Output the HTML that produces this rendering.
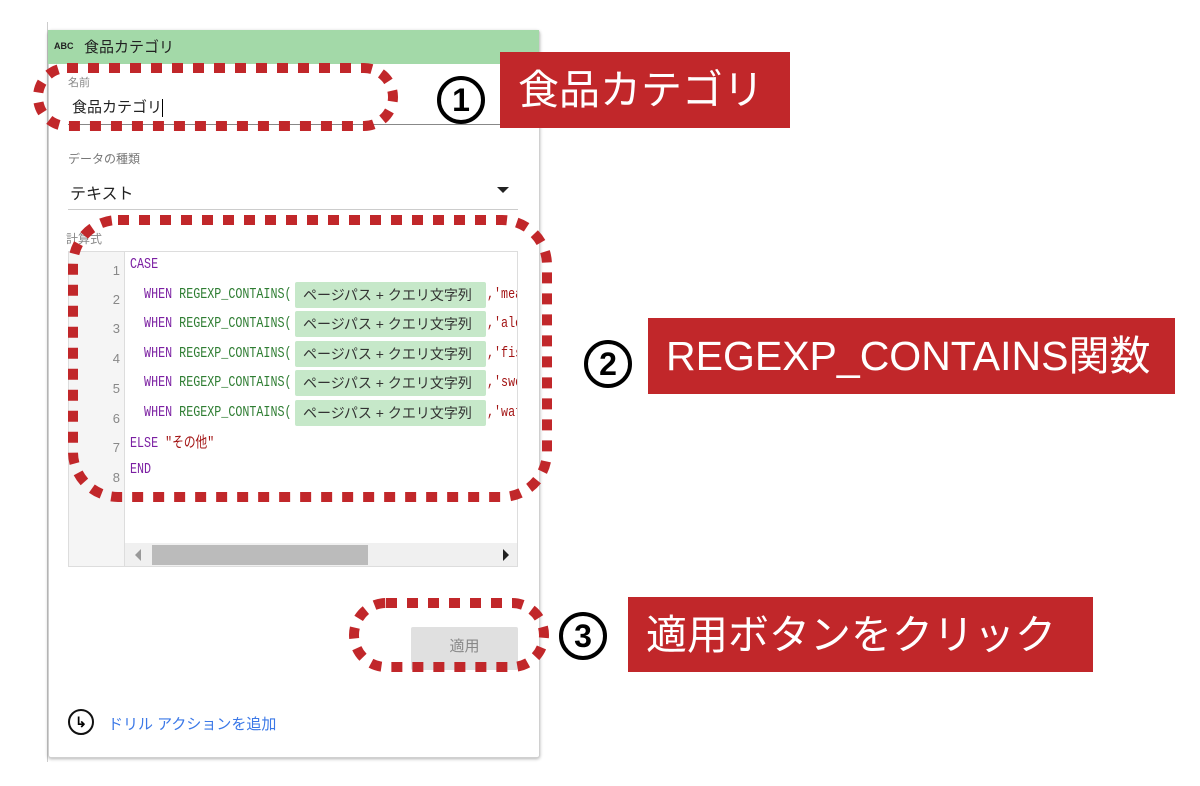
<!DOCTYPE html>
<html><head><meta charset="utf-8"><style>
body{margin:0;width:1200px;height:786px;background:#fff;position:relative;overflow:hidden;font-family:"Liberation Sans","Noto Sans CJK JP",sans-serif}
.a{position:absolute}
.lbl{position:absolute;background:#c1272a;color:#fff;font-size:41px;line-height:76px;padding-left:18px;box-sizing:border-box;white-space:nowrap}
.num{position:absolute;width:40px;height:40px;border:4px solid #000;border-radius:50%;font-size:32px;font-weight:bold;line-height:40px;text-align:center;color:#000}
.code{position:absolute;left:130px;font-family:"Liberation Mono","Noto Sans CJK JP",monospace;font-size:15px;transform:scaleX(0.78);transform-origin:left;white-space:nowrap}
.ln{position:absolute;left:100px;width:20px;text-align:right;font-size:13px;color:#888}
.chip{position:absolute;left:295px;width:191px;height:26px;background:#c6e8c9;border-radius:2px;font-size:14px;line-height:26px;color:#333;padding-left:8px;box-sizing:border-box}
.kw{color:#7b1fa2}.fn{color:#2e7d32}.st{color:#a31515}
.clip{position:absolute;left:487px;top:280px;width:30px;height:150px;overflow:hidden}
.clip .code{left:0}
</style></head><body>
<div class="a" style="left:47px;top:22px;width:1px;height:740px;background:#ccc"></div>
<div class="a" style="left:48px;top:30px;width:490px;height:726px;background:#fff;border:1px solid #d0d0d0;border-radius:3px;box-shadow:0 1px 3px rgba(0,0,0,.3)"></div>
<div class="a" style="left:48px;top:30px;width:491px;height:34px;background:#a3d9a8"></div>
<div class="a" style="left:54px;top:41px;font-size:9px;font-weight:bold;color:#222">ABC</div>
<div class="a" style="left:84px;top:36px;font-size:15px;color:#222">食品カテゴリ</div>
<div class="a" style="left:68px;top:74px;font-size:11px;color:#888">名前</div>
<div class="a" style="left:72px;top:96px;font-size:15px;color:#222">食品カテゴリ<span style="display:inline-block;width:1px;height:18px;background:#000;vertical-align:middle"></span></div>
<div class="a" style="left:68px;top:124px;width:450px;height:1px;background:#888"></div>
<div class="a" style="left:68px;top:150px;font-size:12px;color:#777">データの種類</div>
<div class="a" style="left:70px;top:180px;font-size:16px;color:#222">テキスト</div>
<div class="a" style="left:497px;top:187px;border-left:6px solid transparent;border-right:6px solid transparent;border-top:6px solid #222"></div>
<div class="a" style="left:68px;top:209px;width:450px;height:1px;background:#ccc"></div>
<div class="a" style="left:66px;top:230px;font-size:12px;color:#888">計算式</div>
<div class="a" style="left:68px;top:251px;width:450px;height:316px;border:1px solid #ddd;box-sizing:border-box;background:#fff"></div>
<div class="a" style="left:69px;top:252px;width:55px;height:314px;background:#f5f5f5;border-right:1px solid #ddd"></div>
<div class="a" style="left:125px;top:543px;width:392px;height:23px;background:#f0f0f0"></div>
<div class="a" style="left:152px;top:545px;width:216px;height:20px;background:#bbb"></div>
<div class="a" style="left:135px;top:549px;border-top:6px solid transparent;border-bottom:6px solid transparent;border-right:6px solid #999"></div>
<div class="a" style="left:503px;top:549px;border-top:6px solid transparent;border-bottom:6px solid transparent;border-left:6px solid #222"></div>
<div class="ln" style="top:263px">1</div><div class="ln" style="top:292px">2</div><div class="ln" style="top:321px">3</div><div class="ln" style="top:351px">4</div><div class="ln" style="top:381px">5</div><div class="ln" style="top:411px">6</div><div class="ln" style="top:440px">7</div><div class="ln" style="top:470px">8</div>
<div class="code kw" style="top:256px">CASE</div>
<div class="code" style="top:286px">&nbsp;&nbsp;<span class="kw">WHEN</span> <span class="fn">REGEXP_CONTAINS(</span></div>
<div class="code" style="top:315px">&nbsp;&nbsp;<span class="kw">WHEN</span> <span class="fn">REGEXP_CONTAINS(</span></div>
<div class="code" style="top:345px">&nbsp;&nbsp;<span class="kw">WHEN</span> <span class="fn">REGEXP_CONTAINS(</span></div>
<div class="code" style="top:374px">&nbsp;&nbsp;<span class="kw">WHEN</span> <span class="fn">REGEXP_CONTAINS(</span></div>
<div class="code" style="top:404px">&nbsp;&nbsp;<span class="kw">WHEN</span> <span class="fn">REGEXP_CONTAINS(</span></div>
<div class="code" style="top:431px"><span class="kw">ELSE</span> <span class="st">"その他"</span></div>
<div class="code kw" style="top:461px">END</div>
<div class="chip" style="top:282px">ページパス + クエリ文字列</div>
<div class="chip" style="top:311px">ページパス + クエリ文字列</div>
<div class="chip" style="top:341px">ページパス + クエリ文字列</div>
<div class="chip" style="top:370px">ページパス + クエリ文字列</div>
<div class="chip" style="top:400px">ページパス + クエリ文字列</div>
<div class="clip">
<div class="code st" style="top:6px">,'mea</div>
<div class="code st" style="top:35px">,'alc</div>
<div class="code st" style="top:65px">,'fis</div>
<div class="code st" style="top:94px">,'swe</div>
<div class="code st" style="top:124px">,'wat</div>
</div>
<div class="a" style="left:411px;top:627px;width:107px;height:43px;background:#e0e0e0;border-radius:2px;font-size:15px;color:#888;text-align:center;line-height:40px">適用</div>
<div class="a" style="left:68px;top:709px;width:22px;height:22px;border:2px solid #111;border-radius:50%;font-size:14px;line-height:22px;text-align:center;font-weight:bold">↳</div>
<div class="a" style="left:108px;top:713px;font-size:15px;color:#3b78e7">ドリル アクションを追加</div>
<svg class="a" style="left:0;top:0" width="1200" height="786">
<g fill="none" stroke="#c1272a" stroke-width="10" stroke-dasharray="11 10">
<rect x="38" y="68" width="355" height="58" rx="29"/>
<rect x="73" y="220" width="474" height="277" rx="45"/>
<rect x="354" y="603" width="190" height="64" rx="32"/>
</g></svg>
<div class="num" style="left:437px;top:76px">1</div>
<div class="num" style="left:584px;top:340px">2</div>
<div class="num" style="left:559px;top:612px">3</div>
<div class="lbl" style="left:500px;top:52px;width:290px;height:76px">食品カテゴリ</div>
<div class="lbl" style="left:648px;top:318px;width:527px;height:76px">REGEXP_CONTAINS関数</div>
<div class="lbl" style="left:628px;top:597px;width:465px;height:75px">適用ボタンをクリック</div>
</body></html>
